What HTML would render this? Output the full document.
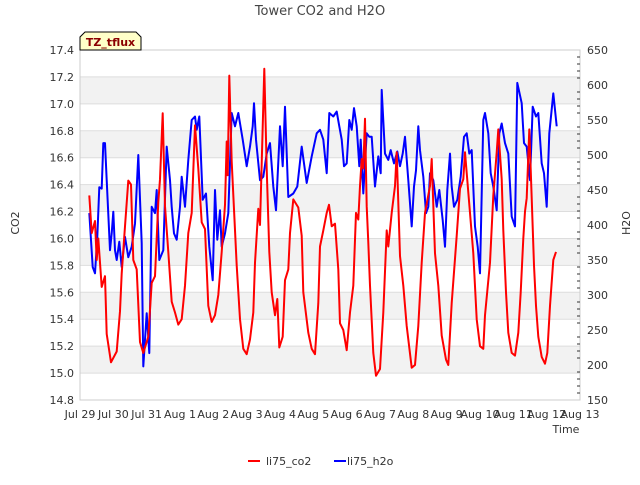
<!DOCTYPE html>
<html><head><meta charset="utf-8"><style>
body{margin:0;background:#fff;}
svg text{font-family:"DejaVu Sans","Liberation Sans",sans-serif;}
</style></head><body>
<svg id="chart" width="640" height="480" xmlns="http://www.w3.org/2000/svg">
<rect width="640" height="480" fill="#fff"/>
<text x="320" y="15" text-anchor="middle" font-size="13" fill="#444">Tower CO2 and H2O</text>
<g id="bands"></g><g id="grid"></g>
<rect x="80" y="50" width="500" height="350" fill="none" stroke="#ccc"/>
<g id="axes"></g>
<g id="series"></g>
<g>
<path d="M80,50 L80,37 L85,32 L136,32 L141,37 L141,50 Z" fill="#ffffc8" stroke="#000"/>
<text x="110.5" y="46" text-anchor="middle" font-size="11" font-weight="bold" fill="#8b0000">TZ_tflux</text>
</g>
<text transform="translate(19,223) rotate(-90)" text-anchor="middle" font-size="11" fill="#333">CO2</text>
<text transform="translate(630,223) rotate(-90)" text-anchor="middle" font-size="11" fill="#333">H2O</text>
<text x="566" y="433" text-anchor="middle" font-size="11" fill="#333">Time</text>
<g><line x1="248" y1="461" x2="260" y2="461" stroke="#f00" stroke-width="2"/><text x="266" y="465" font-size="11" fill="#333">li75_co2</text></g>
<g><line x1="334" y1="461" x2="346" y2="461" stroke="#00f" stroke-width="2"/><text x="347" y="465" font-size="11" fill="#333">li75_h2o</text></g>
</svg>
<script>
const xLabels=["Jul 29","Jul 30","Jul 31","Aug 1","Aug 2","Aug 3","Aug 4","Aug 5","Aug 6","Aug 7","Aug 8","Aug 9","Aug 10","Aug 11","Aug 12","Aug 13"];
const leftTicks=[14.8,15.0,15.2,15.4,15.6,15.8,16.0,16.2,16.4,16.6,16.8,17.0,17.2,17.4];
const rightTicks=[150,200,250,300,350,400,450,500,550,600,650];
const co2T=[0.28,0.35,0.45,0.5,0.55,0.65,0.75,0.8,0.93,1.1,1.2,1.25,1.35,1.45,1.53,1.6,1.7,1.8,1.9,2.05,2.15,2.25,2.35,2.4,2.48,2.55,2.65,2.75,2.85,2.95,3.05,3.15,3.25,3.35,3.45,3.55,3.65,3.75,3.85,3.95,4.05,4.15,4.25,4.35,4.4,4.43,4.48,4.55,4.7,4.8,4.9,5.0,5.1,5.2,5.25,5.35,5.4,5.53,5.6,5.68,5.75,5.85,5.92,5.98,6.08,6.15,6.25,6.3,6.4,6.55,6.65,6.7,6.85,6.95,7.05,7.15,7.2,7.3,7.4,7.47,7.55,7.65,7.75,7.8,7.9,8.0,8.1,8.2,8.28,8.35,8.4,8.45,8.5,8.55,8.6,8.65,8.7,8.8,8.88,9.0,9.1,9.2,9.25,9.35,9.45,9.5,9.6,9.7,9.8,9.95,10.05,10.15,10.25,10.35,10.5,10.55,10.65,10.75,10.85,10.98,11.05,11.15,11.3,11.4,11.5,11.55,11.7,11.8,11.9,12.0,12.1,12.15,12.3,12.4,12.5,12.55,12.65,12.7,12.78,12.85,12.95,13.05,13.15,13.22,13.3,13.35,13.4,13.48,13.55,13.62,13.68,13.75,13.85,13.95,14.02,14.1,14.2,14.28];
const co2V=[16.32,16.04,16.13,15.84,16.0,15.64,15.72,15.29,15.08,15.16,15.46,15.74,16.09,16.43,16.4,15.84,15.77,15.23,15.15,15.27,15.67,15.72,16.27,16.44,16.93,16.24,15.9,15.53,15.45,15.36,15.4,15.65,16.04,16.19,16.84,16.52,16.12,16.07,15.5,15.38,15.43,15.58,15.9,16.25,16.72,16.47,17.21,16.57,15.8,15.4,15.18,15.14,15.25,15.45,15.82,16.22,16.1,17.26,16.52,15.9,15.6,15.43,15.55,15.19,15.27,15.69,15.77,16.04,16.29,16.23,16.02,15.6,15.3,15.18,15.14,15.52,15.94,16.06,16.19,16.25,16.09,16.11,15.77,15.37,15.32,15.17,15.45,15.65,16.19,16.14,16.39,16.59,16.52,16.89,16.24,15.97,15.65,15.15,14.98,15.03,15.45,16.06,15.94,16.19,16.39,16.64,15.87,15.65,15.35,15.04,15.06,15.35,15.82,16.19,16.39,16.59,15.89,15.65,15.28,15.1,15.06,15.52,16.02,16.37,16.44,16.64,16.19,15.89,15.4,15.2,15.18,15.43,15.82,16.32,16.64,16.81,16.44,16.06,15.6,15.3,15.15,15.13,15.3,15.6,16.0,16.2,16.3,16.81,16.3,15.8,15.5,15.27,15.12,15.07,15.15,15.5,15.84,15.9];
const h2oT=[0.28,0.38,0.45,0.52,0.58,0.65,0.7,0.75,0.8,0.9,0.95,1.0,1.05,1.1,1.18,1.25,1.35,1.45,1.55,1.65,1.75,1.85,1.9,2.0,2.08,2.15,2.25,2.3,2.38,2.5,2.6,2.7,2.75,2.82,2.9,3.0,3.05,3.15,3.25,3.35,3.45,3.5,3.58,3.68,3.78,3.88,3.98,4.05,4.12,4.2,4.25,4.35,4.45,4.55,4.65,4.75,4.88,5.0,5.1,5.18,5.22,5.28,5.4,5.5,5.6,5.7,5.8,5.88,6.0,6.08,6.15,6.25,6.4,6.52,6.65,6.8,6.95,7.1,7.2,7.3,7.4,7.48,7.6,7.7,7.78,7.85,7.92,8.0,8.08,8.15,8.22,8.3,8.38,8.42,8.5,8.6,8.68,8.75,8.85,8.95,9.02,9.05,9.15,9.25,9.32,9.42,9.52,9.6,9.68,9.75,9.85,9.95,10.02,10.08,10.15,10.2,10.3,10.38,10.45,10.5,10.6,10.7,10.78,10.88,10.95,11.02,11.1,11.15,11.22,11.32,11.42,11.52,11.6,11.68,11.75,11.85,11.93,12.0,12.1,12.15,12.25,12.32,12.4,12.5,12.58,12.65,12.75,12.85,12.95,13.05,13.12,13.25,13.32,13.4,13.5,13.58,13.68,13.75,13.85,13.92,14.0,14.08,14.2,14.3];
const h2oV=[417,340,331,383,454,452,517,517,464,364,388,419,364,350,376,340,383,354,369,402,500,374,198,274,217,426,417,450,350,364,512,464,426,388,379,426,469,426,493,550,555,536,555,436,445,369,321,450,379,421,369,388,417,560,541,560,522,484,512,541,574,522,464,469,502,517,455,421,541,484,569,440,445,455,512,460,498,531,536,522,474,560,555,562,541,522,484,488,550,536,567,541,484,522,445,531,526,526,455,498,474,593,502,493,507,488,505,484,502,526,464,398,455,478,541,507,469,417,426,474,464,426,450,407,369,450,502,455,426,436,469,526,531,502,507,398,369,331,550,560,531,474,455,421,531,545,517,502,412,398,603,574,517,512,464,569,555,560,488,474,426,531,588,541];
const X0=80,X1=580,Y0=400,Y1=50;
const xs=d=>X0+(X1-X0)*d/15;
const yL=v=>Y0-(v-14.8)/(17.4-14.8)*(Y0-Y1);
const yR=v=>Y0-(v-150)/(650-150)*(Y0-Y1);
const NS="http://www.w3.org/2000/svg";
function mk(tag,parent,attrs){const e=document.createElementNS(NS,tag);for(const k in attrs)e.setAttribute(k,attrs[k]);document.getElementById(parent).appendChild(e);return e;}
for(let i=0;i<leftTicks.length-1;i++){
  if(i%2===1){const b=mk('rect','bands',{x:X0,y:yL(leftTicks[i+1]),width:X1-X0,height:yL(leftTicks[i])-yL(leftTicks[i+1]),fill:'#f2f2f2'});
  
  }
}
leftTicks.forEach(v=>{
  const g=mk('line','grid',{x1:X0,x2:X1,y1:yL(v),y2:yL(v),stroke:'#ddd'});
  
  
  const t=mk('text','axes',{x:74,y:yL(v)+4,'text-anchor':'end','font-size':'11',fill:'#333'});
  t.textContent=v.toFixed(1);
  
  
});
rightTicks.forEach(v=>{
  const t=mk('text','axes',{x:587,y:yR(v)+4,'font-size':'11',fill:'#333'});
  t.textContent=v;
  
  
});
for(let v=160;v<650;v+=10){if(v%50===0)continue;
  const m=mk('line','axes',{x1:577,x2:580,y1:yR(v),y2:yR(v),stroke:'#333'});
  
  }
xLabels.forEach((s,i)=>{
  const t=mk('text','axes',{x:xs(i),y:418,'text-anchor':'middle','font-size':'11',fill:'#333'});
  t.textContent=s;
  
  
});
const pc=co2T.map((d,i)=>xs(d).toFixed(1)+','+yL(co2V[i]).toFixed(1)).join(' ');
const lc=mk('polyline','series',{points:pc,fill:'none',stroke:'#f00','stroke-width':'2','stroke-linejoin':'round'});


const ph=h2oT.map((d,i)=>xs(d).toFixed(1)+','+yR(h2oV[i]).toFixed(1)).join(' ');
const lh=mk('polyline','series',{points:ph,fill:'none',stroke:'#00f','stroke-width':'2','stroke-linejoin':'round'});


document.getElementById('series').insertBefore(lh,lc);
</script>
</body></html>
